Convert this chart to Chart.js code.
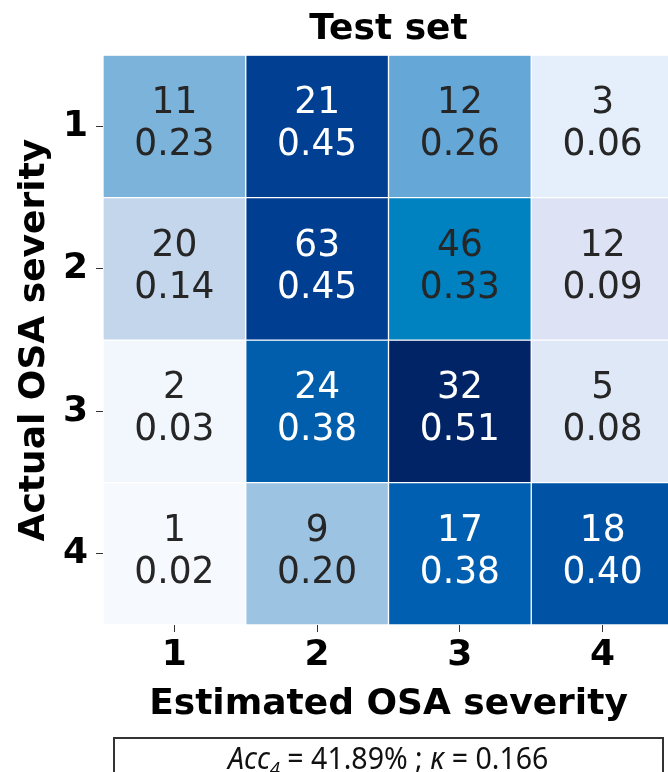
<!DOCTYPE html>
<html>
<head>
<meta charset="utf-8">
<script src="https://cdn.jsdelivr.net/npm/chart.js@4"></script>
<style>
  html, body { margin:0; padding:0; background:#fff; overflow:hidden; width:668px; height:772px; }
  #wrap { position:relative; width:676px; height:772px; }
  #box { position:absolute; left:113px; top:737px; width:551px; height:40px; border:2px solid #333;
         font-family:"Noto Sans", "DejaVu Sans", sans-serif; font-size:31px; color:#111; text-align:center; line-height:36px; box-sizing:border-box; white-space:nowrap; }
  #box span { display:inline-block; transform:scaleX(0.92); transform-origin:center; }
  #box sub { font-size:20px; vertical-align:-7px; line-height:0; }
</style>
</head>
<body>
<div id="wrap">
  <canvas id="c" width="676" height="772"></canvas>
  <div id="box"><span><i>Acc</i><sub><i>4</i></sub> = 41.89% ; <i>κ</i> = 0.166</span></div>
</div>
<script>
// ---- data ----
const estimatedLabels = ['1', '2', '3', '4'];
const actualLabels = ['1', '2', '3', '4'];
const countsRow1 = [11, 21, 12, 3];
const countsRow2 = [20, 63, 46, 12];
const countsRow3 = [2, 24, 32, 5];
const countsRow4 = [1, 9, 17, 18];
const fracRow1 = [0.23, 0.45, 0.26, 0.06];
const fracRow2 = [0.14, 0.45, 0.33, 0.09];
const fracRow3 = [0.03, 0.38, 0.51, 0.08];
const fracRow4 = [0.02, 0.20, 0.38, 0.40];

// ---- styles ----
const colorsRow1 = ['#7bb3da', '#003f91', '#65a7d6', '#e5eefb'];
const colorsRow2 = ['#c4d6ec', '#003e91', '#0082c0', '#dde3f5'];
const colorsRow3 = ['#f2f7fe', '#005eac', '#002466', '#dfe8f7'];
const colorsRow4 = ['#f6f9fe', '#9dc3e2', '#005fb0', '#0052a5'];

const counts = [countsRow1, countsRow2, countsRow3, countsRow4];
const fracs = [fracRow1, fracRow2, fracRow3, fracRow4];
const colors = [colorsRow1, colorsRow2, colorsRow3, colorsRow4];

const datasets = counts.map((row, i) => ({
  label: 'Actual ' + actualLabels[i],
  data: row.map(() => 1),
  counts: row,
  fracs: fracs[i],
  backgroundColor: colors[i],
  borderColor: 'rgba(255,255,255,0.55)',
  borderWidth: 1,
  borderSkipped: false,
  categoryPercentage: 1.0,
  barPercentage: 1.0,
  stack: 's'
}));

const cellText = {
  id: 'cellText',
  afterDatasetsDraw(chart) {
    const ctx = chart.ctx;
    ctx.save();
    ctx.font = '36px "DejaVu Sans"';
    ctx.textAlign = 'center';
    ctx.textBaseline = 'middle';
    chart.data.datasets.forEach((ds, di) => {
      const meta = chart.getDatasetMeta(di);
      meta.data.forEach((el, j) => {
        const cx = el.x;
        const cy = (el.y + el.base) / 2;
        const f = ds.fracs[j];
        ctx.fillStyle = f >= 0.37 ? '#ffffff' : '#262626';
        ctx.save();
        ctx.translate(cx, cy);
        ctx.scale(1, 1.05);
        ctx.fillText(String(ds.counts[j]), 0, -22);
        ctx.fillText(f.toFixed(2), 0, 18);
        ctx.restore();
      });
    });
    ctx.restore();
  }
};

new Chart(document.getElementById('c'), {
  type: 'bar',
  data: { labels: estimatedLabels, datasets },
  plugins: [cellText],
  options: {
    responsive: false,
    animation: false,
    layout: { padding: { left: 0, right: 2, top: 0, bottom: 42 } },
    plugins: {
      legend: { display: false },
      tooltip: { enabled: false },
      title: {
        display: true, text: 'Test set', color: '#000', fullSize: false,
        font: { family: 'DejaVu Sans', size: 36, weight: 'bold' },
        padding: { top: 8, bottom: 4 }
      }
    },
    scales: {
      x: {
        stacked: true,
        offset: true,
        grid: { display: true, drawOnChartArea: false, drawTicks: true, tickLength: 7, color: '#333', offset: false, lineWidth: 1 },
        border: { display: false },
        ticks: { color: '#000', font: { family: 'DejaVu Sans', size: 36, weight: 'bold' }, padding: 2, maxRotation: 0 },
        title: { display: true, text: 'Estimated OSA severity', color: '#000', font: { family: 'DejaVu Sans', size: 36, weight: 'bold' }, padding: { top: 0, bottom: 4 } },
        afterFit(scale) { scale.height = 105; }
      },
      y: {
        stacked: true,
        reverse: true,
        min: 0, max: 4,
        grid: { display: true, drawOnChartArea: false, drawTicks: true, tickLength: 7, color: '#333', lineWidth: 1 },
        border: { display: false },
        afterBuildTicks(scale) { scale.ticks = actualLabels.map((l, i) => ({ value: i + 0.5 })); },
        ticks: {
          color: '#000', font: { family: 'DejaVu Sans', size: 36, weight: 'bold' }, padding: 8,
          callback(v) { return actualLabels[Math.floor(v)]; }
        },
        title: { display: true, text: 'Actual OSA severity', color: '#000', font: { family: 'DejaVu Sans', size: 36, weight: 'bold' }, padding: { top: 13, bottom: 0 } },
        afterFit(scale) { scale.width = 103; }
      }
    }
  }
});
</script>
</body>
</html>
